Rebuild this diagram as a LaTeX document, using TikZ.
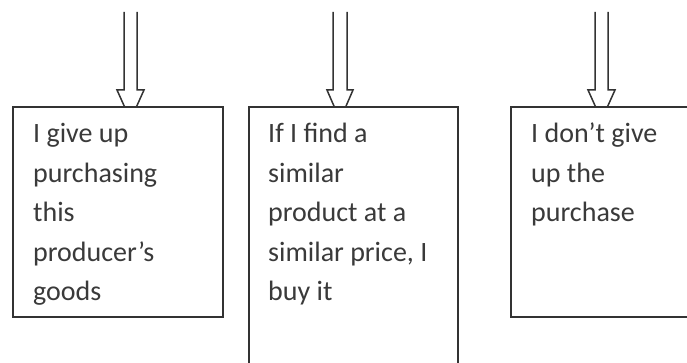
\documentclass[tikz,border=0pt]{standalone}
\usepackage{fontspec}
\setmainfont{Carlito}
\usetikzlibrary{calc,backgrounds}
\definecolor{ink}{HTML}{333333}
\definecolor{txtc}{HTML}{3A3A3A}
\begin{document}
\begin{tikzpicture}[x=1pt,y=1pt,
  box/.style={draw=ink, line width=1.6pt, fill=white, inner sep=0pt, anchor=north west},
  lbl/.style={font=\fontsize{28}{39.5}\selectfont, text=txtc, align=left, inner sep=0pt, anchor=base west},
  blockarrow/.style={draw=ink, line width=1.5pt, fill=white, line join=miter}]
\path[use as bounding box, clip] (0,0) rectangle (687,363);
% boxes
\node[box, minimum width=210pt, minimum height=210pt] (b1) at (12,257) {};
\node[box, minimum width=209pt, minimum height=280pt] (b2) at (248,257) {};
\node[box, minimum width=190pt, minimum height=210pt] (b3) at (510,257) {};
% texts (anchored at the baseline of the last line)
\node[lbl] (t1) at (33,62) {I give up\\purchasing\\this\\producer’s\\goods};
\node[lbl] (t2) at (268,62) {If I find a\\similar\\product at a\\similar price, I\\buy it};
\node[lbl] (t3) at (531,141) {I don’t give\\up the\\purchase};
% arrow free ends
\coordinate (a1) at (130.5,351);
\coordinate (a2) at (340,351);
\coordinate (a3) at (601.5,351);
\begin{scope}[on background layer]
\draw[blockarrow] ($(a1)+(-6.5,0)$) -- ($(a1 |- b1.north)+(-6.5,16)$) -- ++(-7,0)
  -- ($(a1 |- b1.north)+(0,-14)$) -- ($(a1 |- b1.north)+(13.5,16)$) -- ++(-7,0) -- ($(a1)+(6.5,0)$);
\draw[blockarrow] ($(a2)+(-7,0)$) -- ($(a2 |- b2.north)+(-7,16)$) -- ++(-6,0)
  -- ($(a2 |- b2.north)+(0,-14)$) -- ($(a2 |- b2.north)+(13,16)$) -- ++(-6,0) -- ($(a2)+(7,0)$);
\draw[blockarrow] ($(a3)+(-6.5,0)$) -- ($(a3 |- b3.north)+(-6.5,16)$) -- ++(-7,0)
  -- ($(a3 |- b3.north)+(0,-14)$) -- ($(a3 |- b3.north)+(13.5,16)$) -- ++(-7,0) -- ($(a3)+(6.5,0)$);
\end{scope}
\end{tikzpicture}
\end{document}
